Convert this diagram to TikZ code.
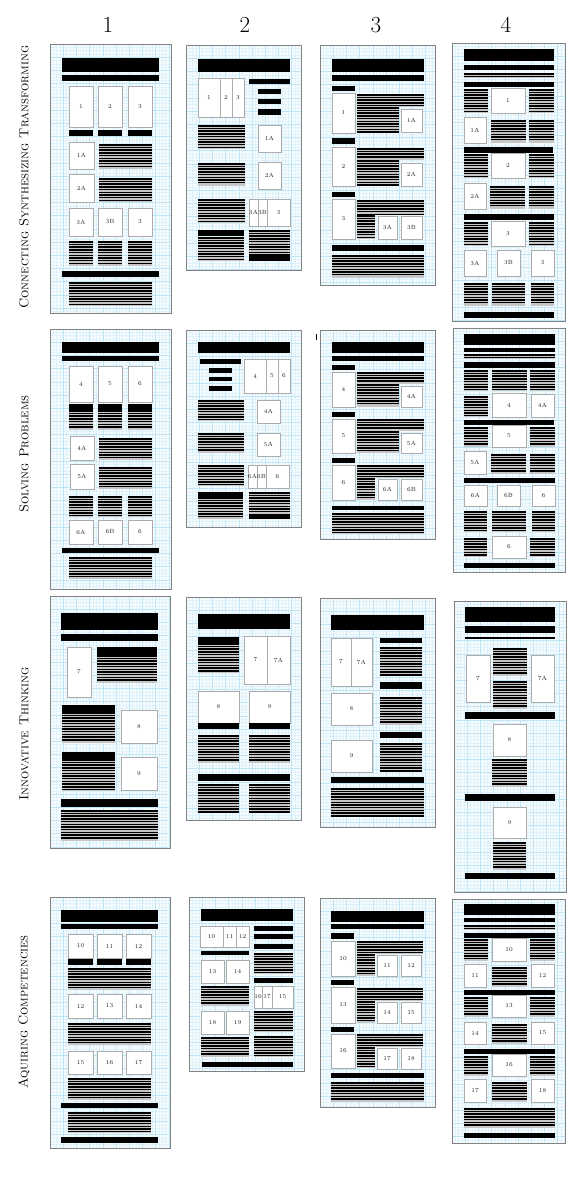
\documentclass[tikz,border=0pt]{standalone}
\usepackage{tikz}
\definecolor{pagebg}{RGB}{246,251,254}
\definecolor{gminc}{RGB}{224,242,250}
\definecolor{gmajc}{RGB}{192,229,246}
\definecolor{pbord}{RGB}{130,130,130}
\tikzset{
  gmin/.style={draw=gminc,line width=0.3pt},
  gmaj/.style={draw=gmajc,line width=0.4pt},
  pageborder/.style={draw=pbord,line width=0.8pt},
  imgbox/.style={draw=gray!65,fill=white,line width=0.6pt},
  lbl/.style={font=\fontsize{6}{6}\selectfont,text=gray!30!black,inner sep=0pt},
  txtbg/.style={fill=gray!45},
  txtline/.style={draw=black,line width=1.5pt},
  colhead/.style={font=\fontsize{23}{24}\selectfont,inner sep=0pt},
  rowlbl/.style={font=\fontsize{13}{14}\selectfont,inner sep=0pt,rotate=90}
}
\newcounter{lbc}
\newcommand\pg[4]{%
 \fill[pagebg] (#1,#2) rectangle (#3,#4);
 \pgfmathsetmacro\gA{#1+3.3}\pgfmathsetmacro\gB{#1+6.6}%
 \foreach \gg in {\gA,\gB,...,#3} \draw[gmin] (\gg,#2) -- (\gg,#4);
 \pgfmathsetmacro\gA{#2+3.3}\pgfmathsetmacro\gB{#2+6.6}%
 \foreach \gg in {\gA,\gB,...,#4} \draw[gmin] (#1,\gg) -- (#3,\gg);
 \pgfmathsetmacro\gA{#1+13.2}\pgfmathsetmacro\gB{#1+26.4}%
 \foreach \gg in {\gA,\gB,...,#3} \draw[gmaj] (\gg,#2) -- (\gg,#4);
 \pgfmathsetmacro\gA{#2+13.2}\pgfmathsetmacro\gB{#2+26.4}%
 \foreach \gg in {\gA,\gB,...,#4} \draw[gmaj] (#1,\gg) -- (#3,\gg);
 \draw[pageborder] (#1,#2) rectangle (#3,#4);
}
\newcommand\bk[4]{\fill[black] (#1,#2) rectangle (#3,#4);}
\newcommand\tx[4]{%
 \fill[txtbg] (#1,#2) rectangle (#3,#4);
 \pgfmathsetmacro\tA{#2+0.8}\pgfmathsetmacro\tB{#2+3.5}\pgfmathsetmacro\tE{#4-0.7}%
 \foreach \yy in {\tA,\tB,...,\tE} \draw[txtline] (#1,\yy) -- (#3,\yy);
}
\newcommand\ib[5]{\stepcounter{lbc}%
 \draw[imgbox] (#1,#2) rectangle (#3,#4);
 \node[lbl] (b\arabic{lbc}) at ({(#1+#3)/2},{(#2+#4)/2}) {#5};}
\begin{document}
\begin{tikzpicture}[x=1pt,y=-1pt]
\useasboundingbox (0,0) rectangle (576,1200);
\fill[white] (0,0) rectangle (576,1200);
% column headings
\node[colhead] (h1) at (108,25) {1};
\node[colhead] (h2) at (245,25) {2};
\node[colhead] (h3) at (376,25) {3};
\node[colhead] (h4) at (506,25) {4};
% row labels
\node[rowlbl] (r1) at (24,177) {\textsc{Connecting Synthesizing Transforming}};
\node[rowlbl] (r2) at (24,454) {\textsc{Solving Problems}};
\node[rowlbl] (r3) at (24,734) {\textsc{Innovative Thinking}};
\node[rowlbl] (r4) at (24,1012) {\textsc{Aquiring Competencies}};
% small stray mark
\draw[line width=1pt] (316,334) -- (316,340);

% ===== Row 1 page 1
\pg{50}{44}{171}{313}
\bk{62}{58}{159}{72}
\bk{62}{75}{159}{81}
\ib{69}{86}{93}{127}{1} \ib{98}{86}{122}{127}{2} \ib{128}{86}{152}{127}{3}
\bk{69}{130}{93}{136} \bk{98}{130}{122}{136} \bk{128}{130}{152}{136}
\ib{69}{142}{94}{169}{1A} \tx{99}{144}{152}{169}
\ib{69}{174}{94}{202}{2A} \tx{99}{178}{152}{202}
\ib{69}{208}{93}{236}{3A} \ib{98}{208}{122}{236}{3B} \ib{128}{208}{152}{236}{3}
\tx{69}{241}{93}{266} \tx{98}{241}{122}{266} \tx{128}{241}{152}{266}
\bk{62}{271}{159}{277}
\tx{69}{282}{152}{306}

% ===== Row 1 page 2
\pg{186}{45}{301}{270}
\bk{198}{59}{290}{72}
\ib{198}{78}{220}{117}{1} \ib{220}{78}{232}{117}{2} \ib{232}{78}{244}{117}{3}
\bk{249}{79}{290}{84}
\bk{258}{89}{281}{94} \bk{258}{99}{281}{104} \bk{258}{109}{281}{115}
\tx{198}{125}{245}{149} \ib{258}{125}{281}{152}{1A}
\tx{198}{163}{245}{186} \ib{258}{162}{281}{189}{2A}
\tx{198}{199}{245}{223} \ib{249}{199}{258}{226}{3A} \ib{258}{199}{267}{226}{3B} \ib{267}{199}{290}{226}{3}
\bk{198}{230}{244}{236} \tx{198}{237}{244}{261}
\tx{249}{230}{290}{256} \bk{249}{256}{290}{261}

% ===== Row 1 page 3
\pg{320}{45}{435}{285}
\bk{332}{59}{424}{72}
\bk{332}{75}{424}{81}
\bk{332}{86}{355}{91}
\ib{332}{93}{355}{133}{1}
\tx{357}{94}{424}{107} \tx{357}{107}{399}{133}
\ib{401}{109}{422}{132}{1A}
\bk{332}{138}{355}{144}
\ib{332}{147}{355}{186}{2}
\tx{357}{148}{424}{160} \tx{357}{160}{399}{186}
\ib{401}{163}{422}{186}{2A}
\bk{332}{192}{355}{197}
\ib{332}{199}{355}{239}{3}
\tx{357}{200}{424}{215} \tx{357}{215}{375}{239}
\ib{378}{216}{397}{239}{3A} \ib{401}{216}{422}{239}{3B}
\bk{332}{245}{424}{251}
\tx{332}{255}{424}{278}

% ===== Row 1 page 4
\pg{452}{43}{565}{321}
\bk{464}{49}{554}{61}
\bk{464}{65}{554}{70}
\tx{464}{73}{554}{78}
\bk{464}{82}{554}{87}
\tx{464}{89}{488}{113} \ib{491}{88}{525}{113}{1} \tx{529}{89}{554}{113}
\ib{464}{117}{486}{143}{1A} \tx{491}{120}{526}{143} \tx{529}{120}{554}{143}
\bk{464}{147}{553}{153}
\tx{464}{154}{488}{178} \ib{491}{153}{525}{178}{2} \tx{529}{154}{554}{178}
\ib{464}{183}{486}{209}{2A} \tx{490}{186}{525}{209} \tx{529}{186}{554}{209}
\bk{464}{214}{554}{220}
\tx{464}{222}{488}{246} \ib{491}{221}{525}{246}{3} \tx{529}{222}{554}{246}
\ib{464}{250}{486}{276}{3A} \ib{497}{250}{520}{276}{3B} \ib{531}{250}{554}{276}{3}
\tx{464}{283}{488}{306} \tx{492}{283}{525}{306} \tx{531}{283}{554}{306}
\bk{464}{312}{554}{318}

% ===== Row 2 page 1
\pg{50}{329}{171}{589}
\bk{62}{342}{159}{353}
\bk{62}{356}{159}{361}
\ib{69}{366}{93}{402}{4} \ib{98}{366}{122}{402}{5} \ib{128}{366}{152}{402}{6}
\bk{69}{404}{93}{410} \bk{98}{404}{122}{410} \bk{128}{404}{152}{410}
\tx{69}{410}{93}{430} \tx{98}{410}{122}{430} \tx{128}{410}{152}{430}
\ib{70}{436}{94}{460}{4A} \tx{99}{438}{152}{460}
\ib{70}{464}{94}{489}{5A} \tx{99}{467}{152}{489}
\tx{69}{496}{93}{517} \tx{98}{496}{122}{517} \tx{128}{496}{152}{517}
\ib{69}{520}{93}{544}{6A} \ib{98}{520}{122}{544}{6B} \ib{128}{520}{152}{544}{6}
\bk{62}{548}{159}{553}
\tx{69}{557}{152}{579}

% ===== Row 2 page 2
\pg{186}{330}{301}{527}
\bk{198}{342}{290}{353}
\bk{200}{359}{241}{364}
\bk{209}{368}{232}{373} \bk{209}{377}{232}{381} \bk{209}{386}{232}{391}
\ib{244}{359}{266}{393}{4} \ib{266}{359}{278}{393}{5} \ib{278}{359}{290}{393}{6}
\tx{198}{400}{244}{421} \ib{257}{400}{280}{423}{4A}
\tx{198}{433}{244}{453} \ib{257}{433}{280}{456}{5A}
\tx{198}{465}{244}{486} \ib{248}{465}{257}{488}{6A} \ib{257}{465}{266}{488}{6B} \ib{266}{465}{289}{488}{6}
\bk{198}{492}{243}{497} \tx{198}{497}{243}{519}
\tx{249}{492}{290}{514} \bk{249}{514}{290}{519}

% ===== Row 2 page 3
\pg{320}{330}{435}{539}
\bk{332}{342}{424}{353}
\bk{332}{356}{424}{361}
\bk{332}{365}{355}{370}
\ib{332}{372}{355}{407}{4}
\tx{357}{372}{424}{384} \tx{357}{384}{399}{407}
\ib{401}{386}{422}{407}{4A}
\bk{332}{412}{355}{417}
\ib{332}{419}{355}{453}{5}
\tx{357}{419}{424}{431} \tx{357}{431}{399}{453}
\ib{401}{433}{422}{453}{5A}
\bk{332}{458}{355}{463}
\ib{332}{465}{355}{500}{6}
\tx{357}{465}{424}{478} \tx{357}{478}{375}{500}
\ib{378}{479}{397}{500}{6A} \ib{401}{479}{422}{500}{6B}
\bk{332}{506}{424}{510}
\tx{332}{513}{424}{534}

% ===== Row 2 page 4
\pg{453}{328}{565}{572}
\bk{464}{334}{555}{345}
\bk{464}{348}{555}{352}
\tx{464}{354}{555}{359}
\bk{464}{362}{555}{368}
\tx{464}{370}{488}{391} \tx{492}{370}{527}{391} \tx{530}{370}{555}{391}
\tx{464}{396}{488}{417} \ib{492}{393}{526}{417}{4} \ib{531}{394}{554}{417}{4A}
\bk{464}{420}{554}{425}
\tx{464}{427}{488}{447} \ib{492}{425}{526}{447}{5} \tx{530}{427}{555}{447}
\ib{464}{451}{486}{474}{5A} \tx{491}{454}{526}{474} \tx{530}{454}{555}{474}
\bk{464}{478}{555}{483}
\ib{464}{485}{487}{506}{6A} \ib{497}{485}{520}{506}{6B} \ib{532}{485}{555}{506}{6}
\tx{464}{511}{487}{532} \tx{492}{511}{526}{532} \tx{532}{511}{555}{532}
\tx{464}{538}{487}{557} \ib{492}{536}{526}{558}{6} \tx{530}{538}{555}{557}
\bk{464}{563}{555}{568}

% ===== Row 3 page 1
\pg{50}{596}{170}{848}
\bk{61}{613}{158}{630}
\bk{61}{634}{158}{641}
\ib{67}{647}{91}{697}{7}
\bk{97}{647}{157}{655} \tx{97}{655}{157}{683}
\bk{62}{705}{115}{712} \tx{62}{712}{115}{743}
\ib{121}{710}{157}{743}{8}
\bk{62}{752}{115}{759} \tx{62}{759}{115}{791}
\ib{121}{757}{157}{790}{9}
\bk{61}{799}{158}{807}
\tx{61}{810}{158}{841}

% ===== Row 3 page 2
\pg{186}{597}{301}{820}
\bk{198}{614}{290}{629}
\bk{198}{637}{239}{643} \tx{198}{643}{239}{673}
\ib{244}{636}{267}{684}{7} \ib{267}{636}{290}{684}{7A}
\ib{198}{691}{239}{723}{8} \bk{198}{723}{239}{729}
\ib{249}{691}{290}{723}{9} \bk{249}{723}{290}{729}
\tx{198}{735}{239}{763} \tx{249}{735}{290}{763}
\bk{198}{774}{290}{781}
\tx{198}{784}{239}{813} \tx{249}{784}{290}{813}

% ===== Row 3 page 3
\pg{320}{598}{435}{827}
\bk{331}{615}{424}{630}
\ib{331}{638}{351}{686}{7} \ib{351}{638}{372}{686}{7A}
\bk{380}{638}{422}{643} \tx{380}{647}{422}{676}
\bk{380}{682}{422}{689}
\ib{331}{693}{372}{725}{8} \tx{380}{697}{422}{725}
\bk{380}{732}{422}{738}
\ib{331}{740}{372}{772}{9} \tx{380}{743}{422}{772}
\bk{331}{777}{424}{783}
\tx{331}{788}{424}{817}

% ===== Row 3 page 4
\pg{454}{601}{566}{892}
\bk{465}{607}{555}{622}
\bk{465}{626}{555}{633}
\bk{465}{637}{555}{639}
\ib{466}{655}{490}{702}{7}
\tx{493}{648}{527}{676} \tx{493}{681}{527}{709}
\ib{531}{655}{554}{702}{7A}
\bk{465}{712}{555}{719}
\ib{493}{724}{526}{756}{8}
\tx{492}{759}{527}{787}
\bk{465}{794}{555}{801}
\ib{493}{807}{526}{838}{9}
\tx{493}{842}{526}{870}
\bk{465}{873}{555}{879}

% ===== Row 4 page 1
\pg{50}{897}{170}{1148}
\bk{61}{910}{158}{922}
\bk{61}{924}{158}{929}
\ib{68}{934}{93}{958}{10} \ib{97}{934}{122}{958}{11} \ib{126}{934}{151}{958}{12}
\bk{68}{959}{93}{965} \bk{97}{959}{122}{965} \bk{126}{959}{151}{965}
\tx{68}{968}{151}{990}
\ib{68}{994}{93}{1018}{12} \ib{97}{994}{122}{1018}{13} \ib{126}{994}{151}{1018}{14}
\tx{68}{1023}{151}{1045}
\ib{68}{1051}{93}{1074}{15} \ib{97}{1051}{122}{1074}{16} \ib{126}{1051}{151}{1074}{17}
\tx{68}{1078}{151}{1100}
\bk{61}{1103}{158}{1108}
\tx{68}{1112}{151}{1133}
\bk{61}{1137}{158}{1143}

% ===== Row 4 page 2
\pg{189}{897}{304}{1071}
\bk{201}{909}{293}{921}
\ib{200}{926}{223}{947}{10} \ib{223}{926}{236}{947}{11} \ib{236}{926}{249}{947}{12}
\bk{201}{951}{249}{955}
\ib{201}{960}{224}{983}{13} \ib{226}{960}{249}{983}{14}
\tx{201}{986}{249}{1006}
\ib{201}{1011}{224}{1034}{18} \ib{226}{1011}{249}{1034}{19}
\tx{201}{1037}{249}{1057}
\bk{254}{926}{293}{931} \bk{254}{934}{293}{939} \bk{254}{944}{293}{949}
\tx{254}{953}{293}{974}
\bk{254}{978}{293}{983}
\ib{254}{986}{262}{1008}{16} \ib{262}{986}{272}{1008}{17} \ib{272}{986}{293}{1008}{15}
\tx{254}{1011}{293}{1032}
\tx{254}{1036}{293}{1057}
\bk{202}{1062}{293}{1067}

% ===== Row 4 page 3
\pg{320}{898}{435}{1107}
\bk{331}{911}{424}{922}
\bk{331}{924}{424}{929}
\bk{331}{933}{354}{939}
\ib{331}{941}{355}{976}{10}
\tx{357}{941}{423}{954} \tx{357}{954}{375}{976}
\ib{377}{955}{397}{976}{11} \ib{401}{955}{421}{976}{12}
\bk{331}{980}{354}{985}
\ib{331}{987}{355}{1023}{13}
\tx{357}{988}{423}{1001} \tx{357}{1001}{375}{1023}
\ib{377}{1002}{397}{1023}{14} \ib{401}{1002}{421}{1023}{15}
\bk{331}{1027}{354}{1032}
\ib{331}{1034}{355}{1068}{16}
\tx{357}{1034}{423}{1047} \tx{357}{1047}{375}{1068}
\ib{377}{1048}{397}{1069}{17} \ib{401}{1048}{421}{1069}{18}
\bk{331}{1073}{424}{1078}
\tx{331}{1082}{424}{1102}

% ===== Row 4 page 4
\pg{452}{899}{565}{1143}
\bk{464}{904}{555}{915}
\bk{464}{918}{555}{922}
\tx{464}{925}{555}{930}
\bk{464}{933}{555}{938}
\tx{464}{939}{488}{961} \ib{492}{938}{526}{961}{10} \tx{530}{939}{555}{961}
\ib{464}{964}{486}{987}{11} \tx{492}{967}{527}{987} \ib{531}{964}{554}{987}{12}
\bk{464}{990}{555}{995}
\tx{464}{997}{488}{1017} \ib{492}{995}{526}{1017}{13} \tx{530}{997}{555}{1017}
\ib{464}{1022}{486}{1044}{14} \tx{492}{1024}{527}{1044} \ib{531}{1022}{554}{1044}{15}
\bk{464}{1049}{555}{1054}
\tx{464}{1056}{488}{1076} \ib{492}{1054}{526}{1076}{16} \tx{530}{1056}{555}{1076}
\ib{464}{1079}{486}{1102}{17} \tx{492}{1082}{527}{1102} \ib{531}{1079}{554}{1102}{18}
\tx{464}{1108}{555}{1128}
\bk{464}{1133}{555}{1138}
\end{tikzpicture}
\end{document}
